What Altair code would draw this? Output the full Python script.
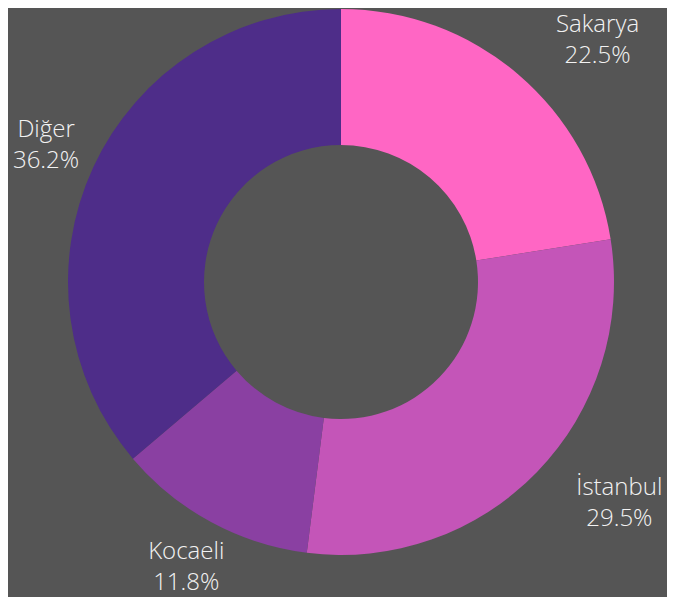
import altair as alt
import pandas as pd
import math

categories = ["Sakarya", "İstanbul", "Kocaeli", "Diğer"]
values = [22.5, 29.5, 11.8, 36.2]
colors = ["#FF66C4", "#C455B8", "#8A40A2", "#4E2D89"]

df = pd.DataFrame({
    "cat": categories,
    "val": values,
    "order": list(range(len(categories))),
    "pct": [f"{v:.1f}%" for v in values],
})

cx, cy = 333, 274

arcs = alt.Chart(df).mark_arc(outerRadius=273, innerRadius=137).encode(
    theta=alt.Theta("val:Q", stack=True),
    order=alt.Order("order:Q"),
    color=alt.Color("cat:N", scale=alt.Scale(domain=categories, range=colors), legend=None),
    x=alt.value(cx), y=alt.value(cy),
)

lab_base = alt.Chart(df).transform_window(
    cum="sum(val)", sort=[alt.SortField("order")], frame=[None, 0]
).transform_joinaggregate(total="sum(val)").transform_calculate(
    mid="(datum.cum - datum.val / 2) / datum.total",
    right="datum.mid < 0.5",
).encode(
    theta=alt.Theta("mid:Q", stack=None, scale=alt.Scale(domain=[0, 1], range=[0, 2 * math.pi])),
    x=alt.value(cx), y=alt.value(cy),
)

txt = dict(font="Open Sans", fontSize=24, fontWeight=300, color="#F2F2F2",
           align="center", baseline="middle")

layers = []
for side, dx, r in (("datum.right", 50, 318), ("!datum.right", 0, 325)):
    b = lab_base.transform_filter(side)
    layers.append(b.mark_text(dy=-15.5, dx=dx, radius=r, **txt).encode(text="cat:N"))
    layers.append(b.mark_text(dy=15.5, dx=dx, radius=r, **txt).encode(text="pct:N"))

chart = alt.layer(arcs, *layers).resolve_scale(theta="independent").properties(
    width=659, height=589, background="#555555",
    autosize=alt.AutoSizeParams(type="none"), padding=0,
).configure_view(stroke=None)

chart.save("out.html", embed_options={"renderer": "svg", "actions": False})
